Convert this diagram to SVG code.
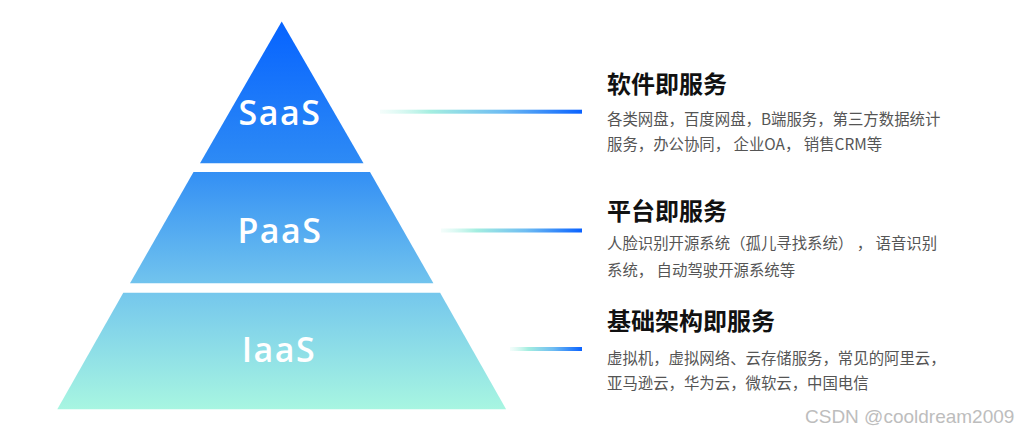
<svg xmlns="http://www.w3.org/2000/svg" width="1019" height="432" viewBox="0 0 1019 432">
  <defs>
    <linearGradient id="pyr" gradientUnits="userSpaceOnUse" x1="0" y1="21" x2="0" y2="410">
      <stop offset="0" stop-color="#0663ff"/>
      <stop offset="0.36" stop-color="#2d8af5"/>
      <stop offset="0.66" stop-color="#6ec1ee"/>
      <stop offset="1" stop-color="#a8f6e1"/>
    </linearGradient>
    <linearGradient id="bar" x1="0" y1="0" x2="1" y2="0">
      <stop offset="0" stop-color="#c9f6ec" stop-opacity="0.2"/>
      <stop offset="0.25" stop-color="#a4eee0"/>
      <stop offset="0.6" stop-color="#6fbdf2"/>
      <stop offset="1" stop-color="#0a62ff"/>
    </linearGradient>
    <style>
      .layer { fill: url(#pyr); }
      .lbl { font-family: "Open Sans", "Noto Sans", sans-serif; font-size: 34px; font-weight: 600; fill: #ffffff; text-anchor: middle; letter-spacing: 1.5px; }
      .ttl { font-family: "Noto Sans CJK SC", "Noto Sans", sans-serif; font-size: 24px; font-weight: 700; fill: #111111; }
      .dsc { font-family: "Noto Sans CJK SC", "Noto Sans", sans-serif; font-size: 15.4px; fill: #555555; }
      .bar { fill: url(#bar); }
      .wm { font-family: "Liberation Sans", Arial, sans-serif; font-size: 19px; fill: #bdbdbd; }
    </style>
  </defs>
  <rect width="1019" height="432" fill="#ffffff"/>

  <g id="saas">
    <polygon class="layer" points="281.7,21.5 363.5,163.3 200,163.3"/>
    <text class="lbl" x="280" y="125">SaaS</text>
  </g>
  <g id="paas">
    <polygon class="layer" points="193.5,172 370,172 433.4,283.3 130,283.3"/>
    <text class="lbl" x="280" y="243">PaaS</text>
  </g>
  <g id="iaas">
    <polygon class="layer" points="123.3,292.7 440.1,292.7 506.1,409.3 57.3,409.3"/>
    <text class="lbl" x="279" y="362">IaaS</text>
  </g>

  <g id="connectors">
    <rect class="bar" x="380" y="109.7" width="202" height="4"/>
    <rect class="bar" x="441" y="228.5" width="141" height="4"/>
    <rect class="bar" x="510" y="347" width="72" height="4"/>
  </g>

  <g id="saas-desc">
    <text class="ttl" x="607" y="93">软件即服务</text>
    <text class="dsc" x="607" y="125">各类网盘，百度网盘，B端服务，第三方数据统计</text>
    <text class="dsc" x="607" y="150" xml:space="preserve">服务，办公协同， 企业OA， 销售CRM等</text>
  </g>
  <g id="paas-desc">
    <text class="ttl" x="607" y="219.5">平台即服务</text>
    <text class="dsc" x="607" y="248.5" xml:space="preserve">人脸识别开源系统（孤儿寻找系统） ， 语音识别</text>
    <text class="dsc" x="607" y="275.5" xml:space="preserve">系统， 自动驾驶开源系统等</text>
  </g>
  <g id="iaas-desc">
    <text class="ttl" x="607" y="329.5">基础架构即服务</text>
    <text class="dsc" x="607" y="363.5">虚拟机，虚拟网络、云存储服务，常见的阿里云，</text>
    <text class="dsc" x="607" y="388.5">亚马逊云，华为云，微软云，中国电信</text>
  </g>

  <text class="wm" x="805" y="423">CSDN @cooldream2009</text>
</svg>
